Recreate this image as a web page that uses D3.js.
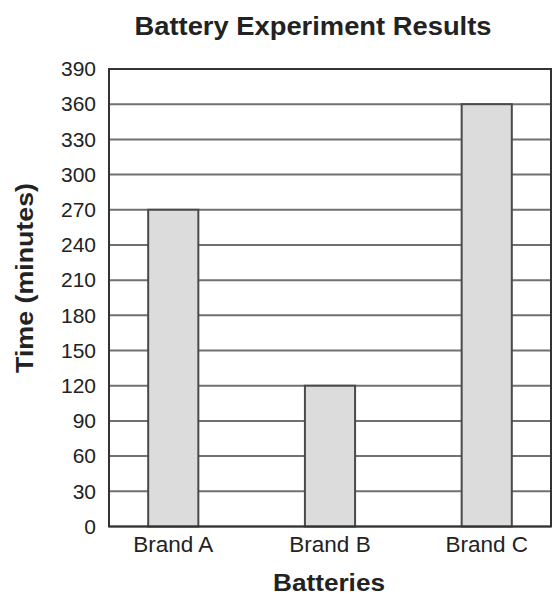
<!DOCTYPE html>
<html><head><meta charset="utf-8">
<script src="https://cdn.jsdelivr.net/npm/d3@7"></script>
<style>body{margin:0;background:#fff}svg{display:block}text{font-family:"Liberation Sans",Arial,sans-serif;fill:#222}</style>
</head><body>
<script>
const categories = ["Brand A", "Brand B", "Brand C"];
const values = [270, 120, 360];
const yTicks = [0,30,60,90,120,150,180,210,240,270,300,330,360,390];
const title = "Battery Experiment Results";
const xTitle = "Batteries";
const yTitle = "Time (minutes)";

const W = 553, H = 595;
const m = {left:109, right:2, top:69, bottom:69};
const svg = d3.select("body").append("svg").attr("width",W).attr("height",H);

const x = d3.scaleBand().domain(categories).range([m.left, W-m.right]).paddingInner(0.68).paddingOuter(0.25);
const y = d3.scaleLinear().domain([0,390]).range([H-m.bottom+0.5, m.top]);

// gridlines
svg.append("g").selectAll("line").data(yTicks).join("line")
  .attr("x1", m.left).attr("x2", W-m.right)
  .attr("y1", d=>y(d)).attr("y2", d=>y(d))
  .attr("stroke","#707070").attr("stroke-width",2);

// bars
svg.append("g").selectAll("rect").data(values).join("rect")
  .attr("x",(d,i)=>x(categories[i])).attr("width",x.bandwidth())
  .attr("y",d=>y(d)).attr("height",d=>y(0)-y(d))
  .attr("fill","#dcdcdc").attr("stroke","#4a4a4a").attr("stroke-width",2);

// frame
svg.append("rect").attr("x",m.left).attr("y",m.top).attr("width",W-m.right-m.left).attr("height",y(0)-m.top)
  .attr("fill","none").attr("stroke","#333").attr("stroke-width",2);

// y axis labels
const ya = d3.axisLeft(y).tickValues(yTicks).tickSize(0).tickPadding(13);
const gy = svg.append("g").attr("transform",`translate(${m.left},0)`).call(ya);
gy.select(".domain").remove();
gy.selectAll("text").attr("font-size",21).attr("fill","#222").style("font-family","Liberation Sans, Arial, sans-serif");

// x axis labels
const xa = d3.axisBottom(x).tickSize(0).tickPadding(10);
const gx = svg.append("g").attr("transform",`translate(0,${y(0)})`).call(xa);
gx.select(".domain").remove();
gx.selectAll("text").attr("font-size",22.5).attr("fill","#222").style("font-family","Liberation Sans, Arial, sans-serif");

svg.append("text").attr("x",313).attr("y",35).attr("text-anchor","middle")
  .attr("font-size",25).attr("font-weight","bold").attr("textLength",357).attr("lengthAdjust","spacingAndGlyphs").text(title);
svg.append("text").attr("x",329).attr("y",591).attr("text-anchor","middle")
  .attr("font-size",23).attr("font-weight","bold").attr("textLength",112).attr("lengthAdjust","spacingAndGlyphs").text(xTitle);
svg.append("text").attr("transform","translate(33,278) rotate(-90)").attr("text-anchor","middle")
  .attr("font-size",24).attr("font-weight","bold").attr("textLength",190).attr("lengthAdjust","spacingAndGlyphs").text(yTitle);
</script>
</body></html>
